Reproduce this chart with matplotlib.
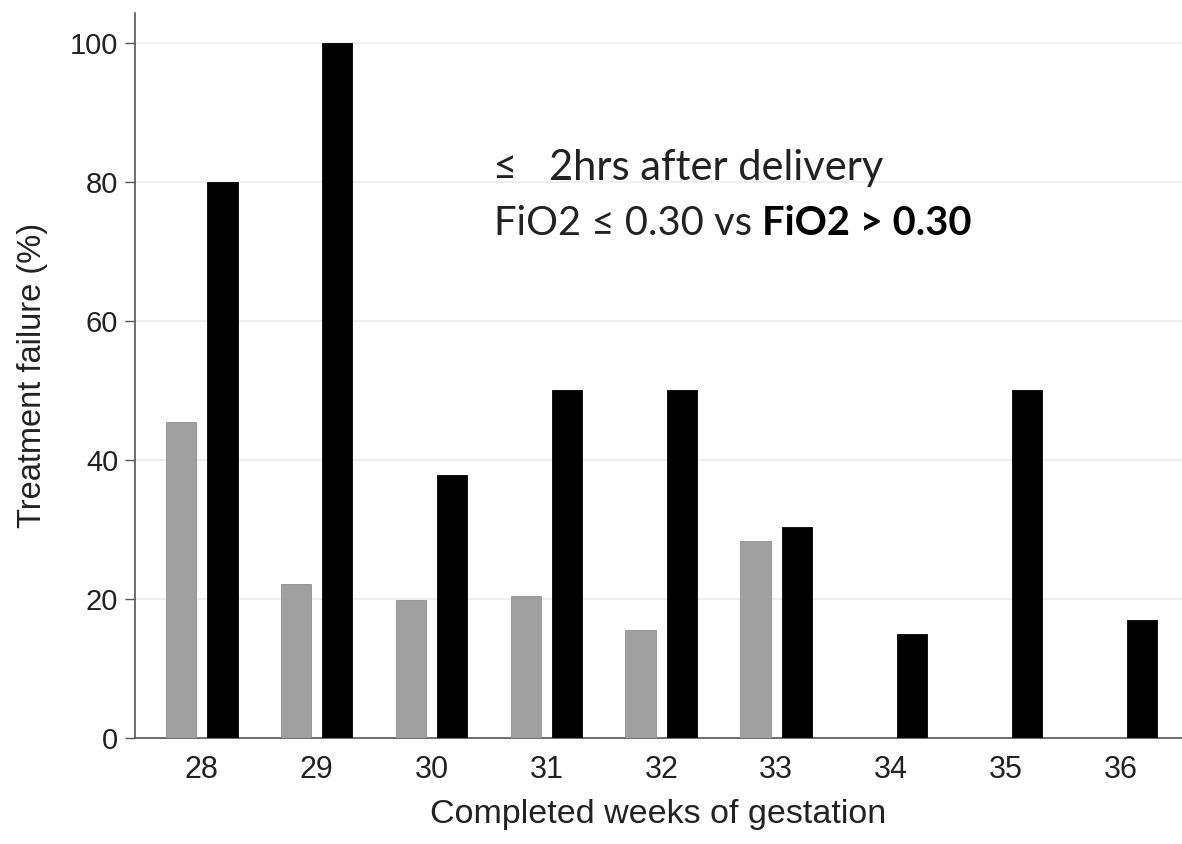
import matplotlib.pyplot as plt
import numpy as np

# weeks of gestation and treatment failure (%)
weeks = [28, 29, 30, 31, 32, 33, 34, 35, 36]
low_fio2 = [45.5, 22.2, 19.8, 20.4, 15.5, 28.4, 0, 0, 0]      # FiO2 <= 0.30
high_fio2 = [80, 100, 37.8, 50, 50, 30.4, 14.9, 50, 17]       # FiO2 > 0.30
yticks = [0, 20, 40, 60, 80, 100]

plt.rcParams['font.family'] = ['Liberation Sans', 'DejaVu Sans']

fig = plt.figure(figsize=(11.82, 8.44), dpi=100)
ax = fig.add_axes([0.1142, 0.1256, 0.8858, 0.859])

x = np.array(weeks, dtype=float)
w = 0.265
ax.bar(x - 0.18, low_fio2, width=w, color="#a0a0a0", edgecolor="#909090", linewidth=0.6, zorder=3)
ax.bar(x + 0.18, high_fio2, width=w, color="black", edgecolor="black", linewidth=0.6, zorder=3)

ax.set_xlim(27.42, 36.53)
ax.set_ylim(0, 104.3)
ax.set_xticks(weeks)
ax.set_yticks(yticks)
ax.tick_params(axis="x", length=0, pad=12, labelsize=22, colors="#222222")
ax.tick_params(axis="y", length=7, width=1, pad=5, labelsize=21, color="#555555", labelcolor="#222222")

for y in yticks[1:]:
    ax.axhline(y, color="#ececec", linewidth=1.2, zorder=1)

for s in ["top", "right"]:
    ax.spines[s].set_visible(False)
for s in ["left", "bottom"]:
    ax.spines[s].set_color("#555555")
    ax.spines[s].set_linewidth(1.2)

ax.set_ylabel("Treatment failure (%)", fontsize=23.5, color="#222222", labelpad=16)
ax.set_xlabel("Completed weeks of gestation", fontsize=24.5, color="#222222", labelpad=10)

txt_font = ['Lato', 'DejaVu Sans']
ax.text(0.342, 0.770, "\u2264   2hrs after delivery", transform=ax.transAxes,
        fontsize=30, family=txt_font, color="#222222", va="baseline")
t1 = ax.text(0.343, 0.694, "FiO2 \u2264 0.30 vs ", transform=ax.transAxes,
             fontsize=28.7, family=txt_font, color="#222222", va="baseline")
ax.annotate("FiO2 > 0.30", xy=(1, 0), xycoords=t1, fontsize=28.7, family=txt_font,
            fontweight="bold", color="black", va="bottom")

fig.savefig("out.png", dpi=100)
